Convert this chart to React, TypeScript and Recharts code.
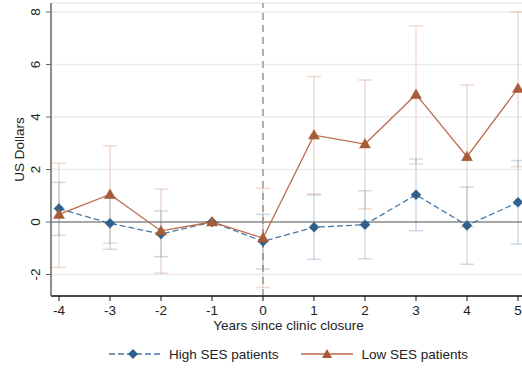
import React from 'react';
import { LineChart, Line, XAxis, YAxis, CartesianGrid, ReferenceLine, ErrorBar, Legend } from 'recharts';

const years = [-4, -3, -2, -1, 0, 1, 2, 3, 4, 5];
const highVals = [0.51, -0.05, -0.46, 0, -0.74, -0.2, -0.1, 1.04, -0.13, 0.75];
const highLow = [-0.51, -1.04, -1.32, 0, -1.79, -1.42, -1.4, -0.33, -1.61, -0.84];
const highHigh = [1.51, 0.93, 0.42, 0, 0.29, 1.03, 1.19, 2.4, 1.33, 2.34];
const lowVals = [0.29, 1.05, -0.34, 0, -0.61, 3.31, 2.97, 4.86, 2.49, 5.09];
const lowLow = [-1.73, -0.81, -1.95, 0, -2.5, 1.07, 0.5, 2.21, -0.2, 2.11];
const lowHigh = [2.24, 2.9, 1.25, 0, 1.28, 5.54, 5.41, 7.47, 5.22, 8.0];
const xTicks = [-4, -3, -2, -1, 0, 1, 2, 3, 4, 5];
const yTicks = [-2, 0, 2, 4, 6, 8];

const data = years.map((y, i) => ({
  year: y,
  high: highVals[i],
  highErr: [highVals[i] - highLow[i], highHigh[i] - highVals[i]],
  low: lowVals[i],
  lowErr: [lowVals[i] - lowLow[i], lowHigh[i] - lowVals[i]],
}));

const FONT = '"Liberation Sans", Arial, sans-serif';
const BLUE_LINE = '#4a79a5';
const BLUE_MARK = '#2f5f8b';
const ORANGE_LINE = '#b96c4b';
const ORANGE_MARK = '#a85b37';

const Diamond = (props: any) => {
  const { cx, cy } = props;
  if (cx == null || cy == null) return null;
  const r = 5;
  return <path key={`d-${cx}`} d={`M${cx},${cy - r}L${cx + r},${cy}L${cx},${cy + r}L${cx - r},${cy}Z`} fill={BLUE_MARK} stroke={BLUE_MARK} strokeWidth={0.5} />;
};

const Triangle = (props: any) => {
  const { cx, cy } = props;
  if (cx == null || cy == null) return null;
  return <path key={`t-${cx}`} d={`M${cx},${cy - 5.5}L${cx + 5.5},${cy + 4}L${cx - 5.5},${cy + 4}Z`} fill={ORANGE_MARK} stroke={ORANGE_MARK} strokeWidth={0.5} />;
};

const YTick = (props: any) => {
  const { x, y, payload } = props;
  return (
    <text x={x - 4} y={y} transform={`rotate(-90, ${x - 4}, ${y})`} textAnchor="middle" fontFamily={FONT} fontSize={13.5} fill="#222">
      {payload.value}
    </text>
  );
};

const XTick = (props: any) => {
  const { x, y, payload } = props;
  return (
    <text x={x} y={y + 12} textAnchor="middle" fontFamily={FONT} fontSize={13.5} fill="#222">
      {payload.value}
    </text>
  );
};

const LegendContent = () => (
  <div style={{ display: 'flex', justifyContent: 'center', alignItems: 'center', height: 26, fontFamily: FONT, fontSize: 13.5, color: '#222' }}>
    <svg width={52} height={12} style={{ marginRight: 8 }}>
      <line x1={0} y1={6} x2={52} y2={6} stroke={BLUE_LINE} strokeWidth={1.3} strokeDasharray="6 3" />
      <path d="M24,1L29,6L24,11L19,6Z" fill={BLUE_MARK} />
    </svg>
    <span style={{ marginRight: 23 }}>High SES patients</span>
    <svg width={52} height={12} style={{ marginRight: 8 }}>
      <line x1={0} y1={6} x2={52} y2={6} stroke={ORANGE_LINE} strokeWidth={1.3} />
      <path d="M26,1L31,10L21,10Z" fill={ORANGE_MARK} />
    </svg>
    <span>Low SES patients</span>
  </div>
);

const YLabel = (props: any) => {
  const vb = props.viewBox || {};
  const cx = 24;
  const cy = (vb.y || 0) + (vb.height || 0) / 2;
  return (
    <text x={cx} y={cy} transform={`rotate(-90, ${cx}, ${cy})`} textAnchor="middle" fontFamily={FONT} fontSize={13.5} fill="#222">
      US Dollars
    </text>
  );
};

const XLabel = (props: any) => {
  const vb = props.viewBox || {};
  const cx = (vb.x || 0) + (vb.width || 0) / 2;
  return (
    <text x={cx} y={(vb.y || 0) + 34} textAnchor="middle" fontFamily={FONT} fontSize={13.5} fill="#222">
      Years since clinic closure
    </text>
  );
};

export default function App() {
  return (
    <div style={{ position: 'fixed', left: 0, top: 0, width: 522, height: 371, overflow: 'hidden', background: '#fff' }}>
      <LineChart width={540} height={371} data={data} margin={{ top: 3, right: 14, bottom: 0, left: 0 }}>
        <CartesianGrid vertical={false} stroke="#ececec" strokeWidth={1.5} />
        <XAxis
          type="number"
          dataKey="year"
          domain={[-4.157, 5.157]}
          ticks={xTicks}
          allowDataOverflow
          height={45}
          axisLine={{ stroke: '#111', strokeWidth: 1.5 }}
          tickLine={{ stroke: '#111' }}
          tickSize={5}
          tick={<XTick />}
          label={<XLabel />}
        />
        <YAxis
          type="number"
          domain={[-2.819, 8.343]}
          ticks={yTicks}
          allowDataOverflow
          width={51}
          axisLine={{ stroke: '#666', strokeWidth: 1.5 }}
          tickLine={{ stroke: '#666' }}
          tickSize={5}
          tick={<YTick />}
          label={<YLabel />}
        />
        <ReferenceLine y={0} stroke="#8c8c8c" strokeWidth={1.5} />
        <ReferenceLine x={0} stroke="#b0b0b0" strokeWidth={2} strokeDasharray="7 5" />
        <Line
          dataKey="high"
          stroke={BLUE_LINE}
          strokeWidth={1.3}
          strokeDasharray="6 3"
          dot={<Diamond />}
          activeDot={false}
          isAnimationActive={false}
        >
          <ErrorBar dataKey="highErr" width={7} stroke="#3f6e9a" strokeOpacity={0.25} strokeWidth={1.5} />
        </Line>
        <Line
          dataKey="low"
          stroke={ORANGE_LINE}
          strokeWidth={1.3}
          dot={<Triangle />}
          activeDot={false}
          isAnimationActive={false}
        >
          <ErrorBar dataKey="lowErr" width={7} stroke="#c0704d" strokeOpacity={0.25} strokeWidth={1.5} />
        </Line>
        <Legend verticalAlign="bottom" height={30} content={<LegendContent />} wrapperStyle={{ left: 51, width: 475 }} />
      </LineChart>
    </div>
  );
}
